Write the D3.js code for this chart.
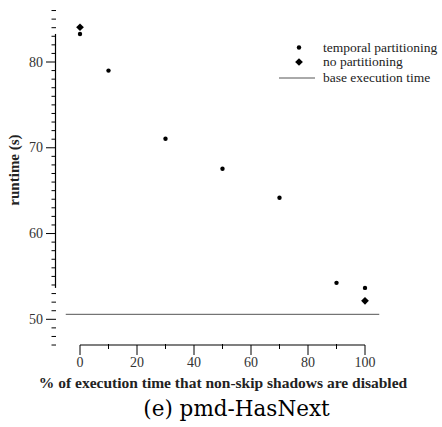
<!DOCTYPE html>
<html><head><meta charset="utf-8">
<script src="https://cdn.jsdelivr.net/npm/d3@7"></script>
<style>body{margin:0;background:#fff}svg{display:block}
text{font-family:"Liberation Serif","Times New Roman",Times,serif}
.title{font-family:"DejaVu Serif","Liberation Serif",serif}</style>
</head><body>
<svg id="c" width="442" height="427"></svg>
<script>
const temporalX = [0, 10, 30, 50, 70, 90, 100];
const temporalY = [83.27, 79.0, 71.05, 67.55, 64.17, 54.25, 53.66];
const noPartX = [0, 100];
const noPartY = [84.05, 52.15];
const baseTime = 50.58;
const baseRange = [-5, 105];
const xTicks = [0, 20, 40, 60, 80, 100];
const xMinor = [10, 30, 50, 70, 90];
const yTicks = [50, 60, 70, 80];
const yMinorRange = [47, 86];
const legendLabels = ["temporal partitioning", "no partitioning", "base execution time"];
const xLabel = "% of execution time that non-skip shadows are disabled";
const yLabel = "runtime (s)";
const title = "(e) pmd-HasNext";

const svg = d3.select("#c");
const x = d3.scaleLinear().domain([0, 100]).range([80, 365]);
const y = d3.scaleLinear().domain([50, 80]).range([319.3, 62]);
const axX = 55.5, axY = 345;

const ext = d3.extent(temporalY);
svg.append("line").attr("x1", axX).attr("x2", axX).attr("y1", y(ext[0])).attr("y2", y(ext[1]))
  .attr("stroke", "#000").attr("stroke-width", 1.2);
d3.range(yMinorRange[0], yMinorRange[1] + 1).forEach(v => {
  if (yTicks.includes(v)) return;
  svg.append("line").attr("x1", 51.5).attr("x2", 56).attr("y1", y(v)).attr("y2", y(v))
    .attr("stroke", "#000").attr("stroke-width", 1);
});
yTicks.forEach(v => {
  svg.append("line").attr("x1", 46).attr("x2", 56).attr("y1", y(v)).attr("y2", y(v))
    .attr("stroke", "#000").attr("stroke-width", 1);
  svg.append("text").attr("x", 43).attr("y", y(v) + 4.5).attr("text-anchor", "end")
    .attr("font-size", 14).attr("fill", "#333").text(v);
});

svg.append("line").attr("x1", x(0)).attr("x2", x(100)).attr("y1", axY).attr("y2", axY)
  .attr("stroke", "#000").attr("stroke-width", 1.2);
xTicks.forEach(v => {
  svg.append("line").attr("x1", x(v)).attr("x2", x(v)).attr("y1", axY).attr("y2", axY + 10)
    .attr("stroke", "#000").attr("stroke-width", 1);
  svg.append("text").attr("x", x(v)).attr("y", 367).attr("text-anchor", "middle")
    .attr("font-size", 14).attr("fill", "#333").text(v);
});
xMinor.forEach(v => {
  svg.append("line").attr("x1", x(v)).attr("x2", x(v)).attr("y1", axY - 1).attr("y2", axY + 4)
    .attr("stroke", "#000").attr("stroke-width", 1);
});

svg.append("line").attr("x1", x(baseRange[0])).attr("x2", x(baseRange[1]))
  .attr("y1", y(baseTime)).attr("y2", y(baseTime)).attr("stroke", "#555").attr("stroke-width", 1);

svg.selectAll(".t").data(temporalX).join("circle")
  .attr("cx", (d) => x(d)).attr("cy", (d, i) => y(temporalY[i])).attr("r", 2.2).attr("fill", "#000");
const dia = d3.symbol().type(d3.symbolDiamond2).size(38);
svg.selectAll(".n").data(noPartX).join("path")
  .attr("d", dia).attr("transform", (d, i) => `translate(${x(d)},${y(noPartY[i])})`).attr("fill", "#000");

const lx = 299, tx = 323, ly = [47.5, 62, 78];
svg.append("circle").attr("cx", lx).attr("cy", ly[0]).attr("r", 2.2).attr("fill", "#000");
svg.append("path").attr("d", dia).attr("transform", `translate(${lx},${ly[1]})`).attr("fill", "#000");
svg.append("line").attr("x1", 279).attr("x2", 315).attr("y1", ly[2]).attr("y2", ly[2]).attr("stroke", "#555").attr("stroke-width", 1);
legendLabels.forEach((t, i) => {
  svg.append("text").attr("x", tx).attr("y", ly[i] + 4).attr("font-size", 13.5).attr("fill", "#222").text(t);
});

svg.append("text").attr("x", 223).attr("y", 388).attr("text-anchor", "middle")
  .attr("font-weight", "bold").attr("font-size", 15.5).attr("fill", "#222").text(xLabel);
svg.append("text").attr("transform", "translate(19,170) rotate(-90)").attr("text-anchor", "middle")
  .attr("font-weight", "bold").attr("font-size", 15).attr("fill", "#222").text(yLabel);
svg.append("text").attr("class", "title").attr("x", 236.5).attr("y", 416).attr("text-anchor", "middle")
  .attr("font-size", 21.5).attr("fill", "#000").text(title);
</script>
</body></html>
